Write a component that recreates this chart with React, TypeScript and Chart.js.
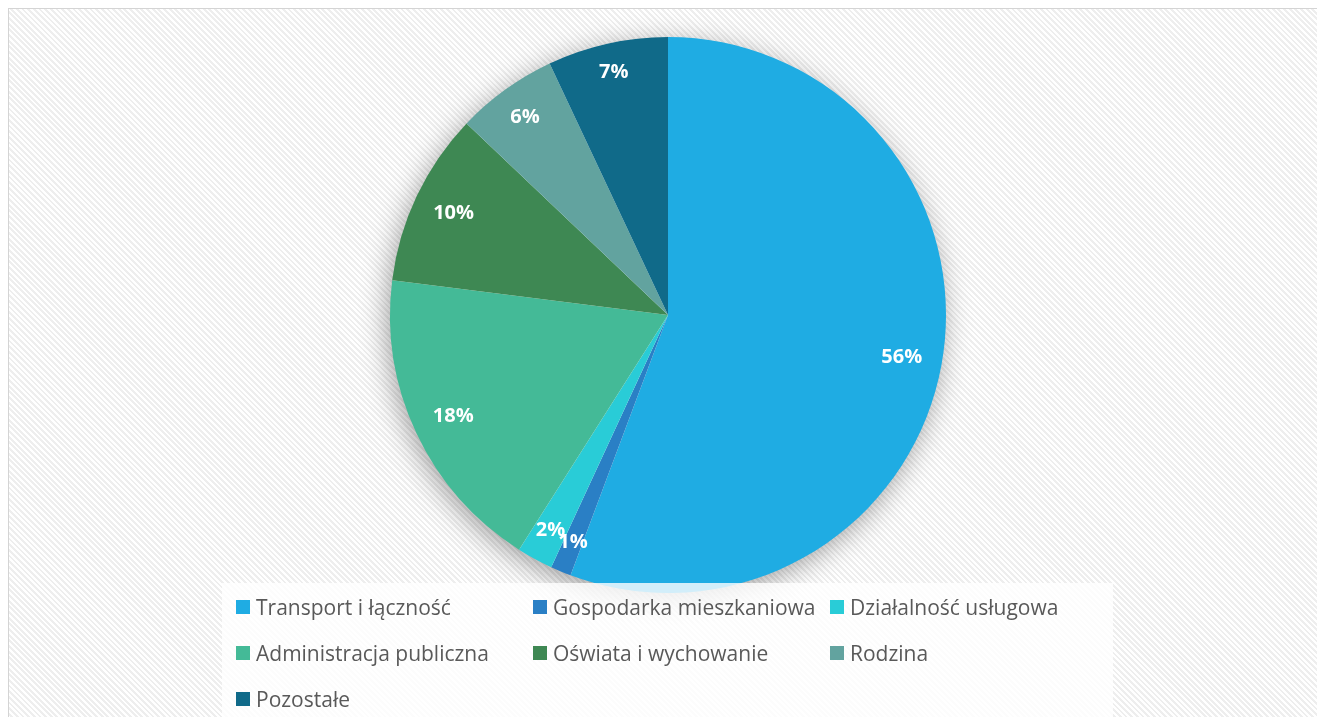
import React, { useEffect, useRef } from "react";
import { Chart, registerables } from "chart.js";

Chart.register(...registerables);

const categories = [
  "Transport i łączność",
  "Gospodarka mieszkaniowa",
  "Działalność usługowa",
  "Administracja publiczna",
  "Oświata i wychowanie",
  "Rodzina",
  "Pozostałe",
];
const shares = [55.7, 1.2, 2.1, 18.0, 10.1, 5.9, 7.0];
const sliceColors = ["#1FACE3", "#2A7FC5", "#29CCD7", "#44BA97", "#3E8853", "#62A39F", "#106A89"];

const LABEL_FONT = "bold 20px 'Open Sans', sans-serif";

const shadowPlugin = {
  id: "pieShadow",
  beforeDatasetsDraw(chart: any) {
    const meta = chart.getDatasetMeta(0);
    const arc = meta.data[0];
    if (!arc) return;
    const { x, y, outerRadius } = arc.getProps(["x", "y", "outerRadius"], true);
    const ctx = chart.ctx;
    ctx.save();
    ctx.shadowColor = "rgba(0,0,0,0.38)";
    ctx.shadowBlur = 28;
    ctx.shadowOffsetX = -3;
    ctx.shadowOffsetY = 6;
    ctx.beginPath();
    ctx.arc(x, y, outerRadius - 1, 0, Math.PI * 2);
    ctx.fillStyle = "#ffffff";
    ctx.fill();
    ctx.restore();
  },
};

const sliceLabelPlugin = {
  id: "sliceLabels",
  afterDatasetsDraw(chart: any) {
    const ctx = chart.ctx;
    const meta = chart.getDatasetMeta(0);
    const data = chart.data.datasets[0].data as number[];
    ctx.save();
    ctx.font = LABEL_FONT;
    ctx.fillStyle = "#ffffff";
    ctx.textAlign = "center";
    ctx.textBaseline = "middle";
    meta.data.forEach((arc: any, i: number) => {
      const { x, y, startAngle, endAngle, outerRadius } = arc.getProps(
        ["x", "y", "startAngle", "endAngle", "outerRadius"],
        true
      );
      const mid = (startAngle + endAngle) / 2;
      const text = Math.round(data[i]) + "%";
      const w = ctx.measureText(text).width;
      const h = 15;
      const half = 0.5 * (Math.abs(Math.cos(mid)) * w + Math.abs(Math.sin(mid)) * h);
      const dist = outerRadius - half - 19;
      ctx.fillText(text, x + Math.cos(mid) * dist, y + Math.sin(mid) * dist);
    });
    ctx.restore();
  },
};

function PieChart() {
  const ref = useRef<HTMLCanvasElement | null>(null);
  useEffect(() => {
    if (!ref.current) return;
    const chart = new Chart(ref.current, {
      type: "pie",
      data: {
        labels: categories,
        datasets: [
          {
            data: shares,
            backgroundColor: sliceColors,
            borderWidth: 0,
          },
        ],
      },
      options: {
        responsive: false,
        animation: false,
        radius: 278,
        layout: { padding: { left: 10, right: 0, top: 0, bottom: 96 } },
        plugins: {
          legend: { display: false },
          tooltip: { enabled: false },
        },
      },
      plugins: [shadowPlugin, sliceLabelPlugin],
    });
    return () => chart.destroy();
  }, []);
  return <canvas ref={ref} width={1308} height={708} style={{ position: "absolute", left: 0, top: 0 }} />;
}

export default function App() {
  return (
    <div style={{ position: "fixed", inset: 0, overflow: "hidden", background: "#ffffff" }}>
      <div
        style={{
          position: "absolute",
          left: 8,
          top: 8,
          width: 1400,
          height: 760,
          border: "1px solid #d4d4d4",
          overflow: "hidden",
          background:
            "repeating-linear-gradient(45deg, #ffffff 0px, #ffffff 2px, #eeeeee 2px, #eeeeee 4px)",
        }}
      >
        <PieChart />
        <div
          style={{
            position: "absolute",
            left: 222 - 9,
            top: 583 - 9,
            width: 891,
            height: 200,
            background: "rgba(255,255,255,0.8)",
            boxSizing: "border-box",
            paddingLeft: 14,
            paddingTop: 1,
            display: "grid",
            gridTemplateColumns: "297px 297px 297px",
            gridAutoRows: "46px",
            fontFamily: "'Open Sans', sans-serif",
            fontSize: 21,
            color: "#595959",
          }}
        >
          {categories.map((c, i) => (
            <div key={c} style={{ display: "flex", alignItems: "center", whiteSpace: "nowrap" }}>
              <span
                style={{
                  display: "inline-block",
                  width: 14,
                  height: 14,
                  background: sliceColors[i],
                  marginRight: 6,
                  flexShrink: 0,
                }}
              />
              <span>{c}</span>
            </div>
          ))}
        </div>
      </div>
    </div>
  );
}
